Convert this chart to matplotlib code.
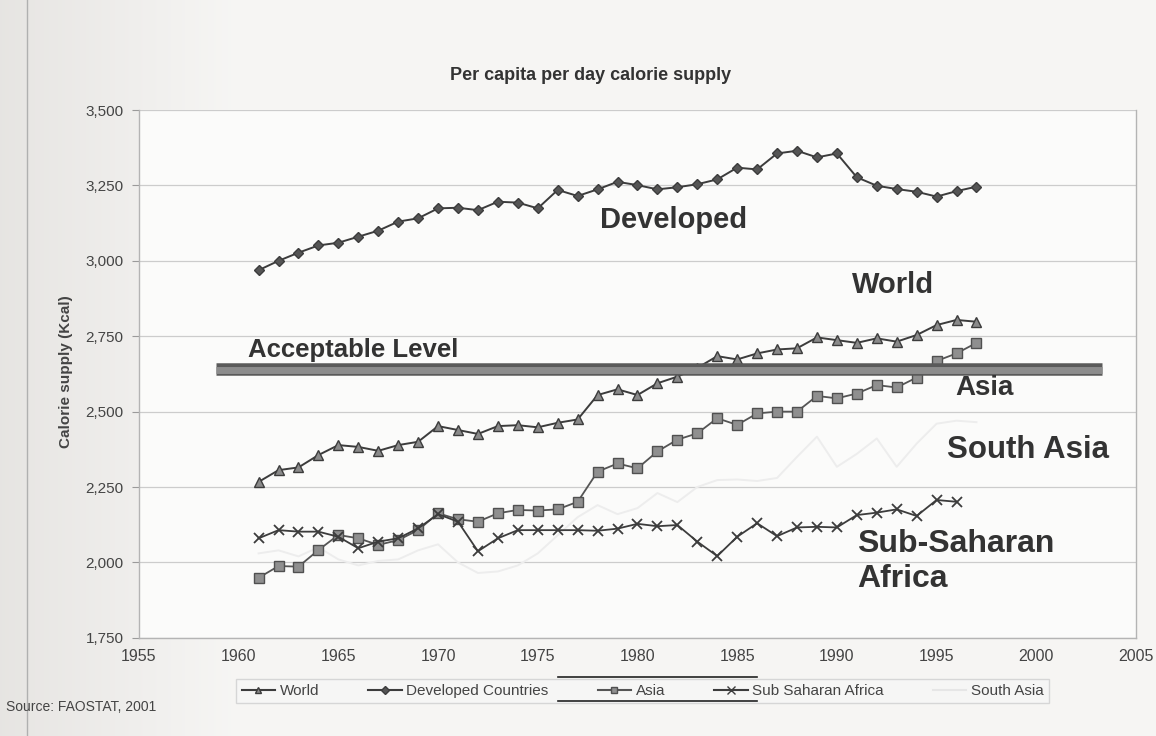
import numpy as np
import matplotlib
matplotlib.use('Agg')
import matplotlib.pyplot as plt
from matplotlib.lines import Line2D

plt.rcParams['font.family'] = ['Liberation Sans', 'DejaVu Sans']

# values (kcal per capita per day)
years = list(range(1961, 1998))
years_ssa = list(range(1961, 1997))

developed = [2969, 3000, 3027, 3051, 3060, 3080, 3100, 3130, 3141, 3174,
             3176, 3168, 3196, 3193, 3174, 3235, 3215, 3237, 3262, 3251,
             3237, 3244, 3254, 3270, 3309, 3303, 3356, 3365, 3343, 3356,
             3277, 3249, 3238, 3229, 3213, 3231, 3246]
world = [2267, 2306, 2315, 2356, 2389, 2383, 2370, 2389, 2400, 2452,
         2439, 2426, 2452, 2455, 2448, 2463, 2474, 2555, 2574, 2555,
         2594, 2616, 2645, 2684, 2673, 2693, 2706, 2710, 2746, 2737,
         2728, 2743, 2732, 2754, 2787, 2804, 2798]
asia = [1949, 1988, 1986, 2041, 2091, 2080, 2058, 2074, 2107, 2163,
        2143, 2135, 2163, 2174, 2172, 2176, 2201, 2301, 2328, 2312,
        2368, 2407, 2428, 2478, 2456, 2494, 2500, 2500, 2552, 2544,
        2560, 2588, 2580, 2613, 2668, 2693, 2728]
ssa = [2080, 2107, 2102, 2102, 2085, 2047, 2069, 2080, 2113, 2160,
       2135, 2037, 2080, 2107, 2107, 2107, 2107, 2105, 2112, 2128,
       2120, 2124, 2069, 2021, 2085, 2130, 2087, 2116, 2118, 2116,
       2157, 2165, 2176, 2154, 2207, 2201]
south_asia = [2030, 2040, 2020, 2050, 2010, 1990, 2005, 2010, 2040, 2060,
              2000, 1965, 1970, 1990, 2030, 2090, 2150, 2190, 2160, 2180,
              2230, 2200, 2250, 2273, 2275, 2270, 2280, 2350, 2417, 2317,
              2360, 2411, 2317, 2394, 2460, 2470, 2465]

acceptable_level = 2641
level_span = (1958.85, 2003.3)

y_ticks = [1750, 2000, 2250, 2500, 2750, 3000, 3250, 3500]
x_ticks = [1955, 1960, 1965, 1970, 1975, 1980, 1985, 1990, 1995, 2000, 2005]

fig = plt.figure(figsize=(11.56, 7.36), dpi=100)
fig.patch.set_facecolor('#f5f4f2')

# scanned-page look: greyish left margin fading into the page
bg = fig.add_axes([0, 0, 1, 1], zorder=-10)
grad = np.clip(np.linspace(0, 1, 400) / 0.2, 0, 1)
base = np.array([0.905, 0.898, 0.888])
paper = np.array([0.965, 0.962, 0.956])
img = base[None, :] * (1 - grad[:, None]) + paper[None, :] * grad[:, None]
bg.imshow(img[None, :, :], aspect='auto', extent=[0, 1, 0, 1])
bg.set_xlim(0, 1)
bg.set_ylim(0, 1)
bg.axis('off')

ax = fig.add_axes([0.1202, 0.1334, 0.8625, 0.7171])
ax.set_facecolor('#fbfbfa')

dark = '#3c3c3c'
# south asia is almost washed out in the scan
ax.plot(years, south_asia, color='#ededed', lw=1.4, zorder=2)
ax.plot(years, developed, color=dark, lw=1.4, marker='D', ms=5,
        mfc='#555555', mec=dark, zorder=3)
ax.plot(years, world, color=dark, lw=1.4, marker='^', ms=6.5,
        mfc='#8a8a8a', mec=dark, zorder=3)
ax.plot(years, asia, color='#555555', lw=1.3, marker='s', ms=6.5,
        mfc='#8f8f8f', mec='#505050', zorder=3)
ax.plot(years_ssa, ssa, color=dark, lw=1.3, marker='x', ms=7,
        mec=dark, mew=1.3, zorder=3)

# acceptable level bar
ax.plot(level_span, [acceptable_level] * 2, color='#5a5a5a', lw=9,
        solid_capstyle='butt', zorder=5)
ax.plot(level_span, [acceptable_level - 3] * 2, color='#8c8c8c', lw=5,
        solid_capstyle='butt', zorder=6)

ax.set_xlim(1955, 2005)
ax.set_ylim(1750, 3500)
ax.set_yticks(y_ticks)
ax.set_yticklabels([f'{v:,}' for v in y_ticks])
ax.set_xticks(x_ticks)
ax.tick_params(axis='y', labelsize=11, colors='#9a9a9a', labelcolor='#444444',
               length=5, pad=6)
ax.tick_params(axis='x', labelsize=11.5, labelcolor='#444444', length=0, pad=8)
ax.grid(axis='y', color='#cccccc', lw=0.9)
ax.spines['top'].set_visible(False)
for side in ['left', 'bottom', 'right']:
    ax.spines[side].set_color('#b4b4b4')
    ax.spines[side].set_linewidth(1.0)

ax.set_ylabel('Calorie supply (Kcal)', fontsize=11, fontweight='bold',
              color='#444444')
ax.yaxis.set_label_coords(-0.066, 0.505)

lab = dict(fontweight='bold', color='#333333', va='center', ha='left', zorder=7)
ax.text(1978.1, 3135, 'Developed', fontsize=21, **lab)
ax.text(1990.75, 2920, 'World', fontsize=21, **lab)
ax.text(1960.45, 2704, 'Acceptable Level', fontsize=18.5, **lab)
ax.text(1995.95, 2578, 'Asia', fontsize=20, **lab)
ax.text(1995.5, 2373, 'South Asia', fontsize=22.5, **lab)
ax.text(1991.0, 2004, 'Sub-Saharan\nAfrica', fontsize=23, linespacing=1.2, **lab)

fig.text(0.511, 0.898, 'Per capita per day calorie supply', ha='center',
         va='center', fontsize=13, fontweight='bold', color='#333333')
fig.text(0.005, 0.040, 'Source: FAOSTAT, 2001', ha='left', va='center',
         fontsize=10, color='#444444')

handles = [
    Line2D([], [], color=dark, marker='^', ms=5, mfc='#8a8a8a', mec=dark),
    Line2D([], [], color=dark, marker='D', ms=4, mfc='#555555', mec=dark),
    Line2D([], [], color='#555555', marker='s', ms=5, mfc='#8f8f8f', mec='#505050'),
    Line2D([], [], color=dark, marker='x', ms=6, mec=dark),
    Line2D([], [], color='#e6e6e6', lw=1.5),
]
names = ['World', 'Developed Countries', 'Asia', 'Sub Saharan Africa', 'South Asia']
leg = fig.legend(handles, names, ncol=5, loc='center',
                 bbox_to_anchor=(0.556, 0.061), fontsize=11, frameon=True,
                 handlelength=2.2, handletextpad=0.3, columnspacing=3.2,
                 borderpad=0.35, fancybox=False)
leg.get_frame().set_edgecolor('#cfcfcf')
leg.get_frame().set_facecolor('#f7f7f6')
for t in leg.get_texts():
    t.set_color('#444444')

# scan artefacts: page edge and the box lines round the Asia entry
fig.add_artist(Line2D([27 / 1156, 27 / 1156], [0, 1], color='#b0b0b0', lw=1))
for yy in (677, 701):
    fig.add_artist(Line2D([558 / 1156, 757 / 1156], [1 - yy / 736] * 2,
                          color='#222222', lw=1.2, zorder=10))

fig.savefig('out.png', dpi=100, facecolor=fig.get_facecolor())
